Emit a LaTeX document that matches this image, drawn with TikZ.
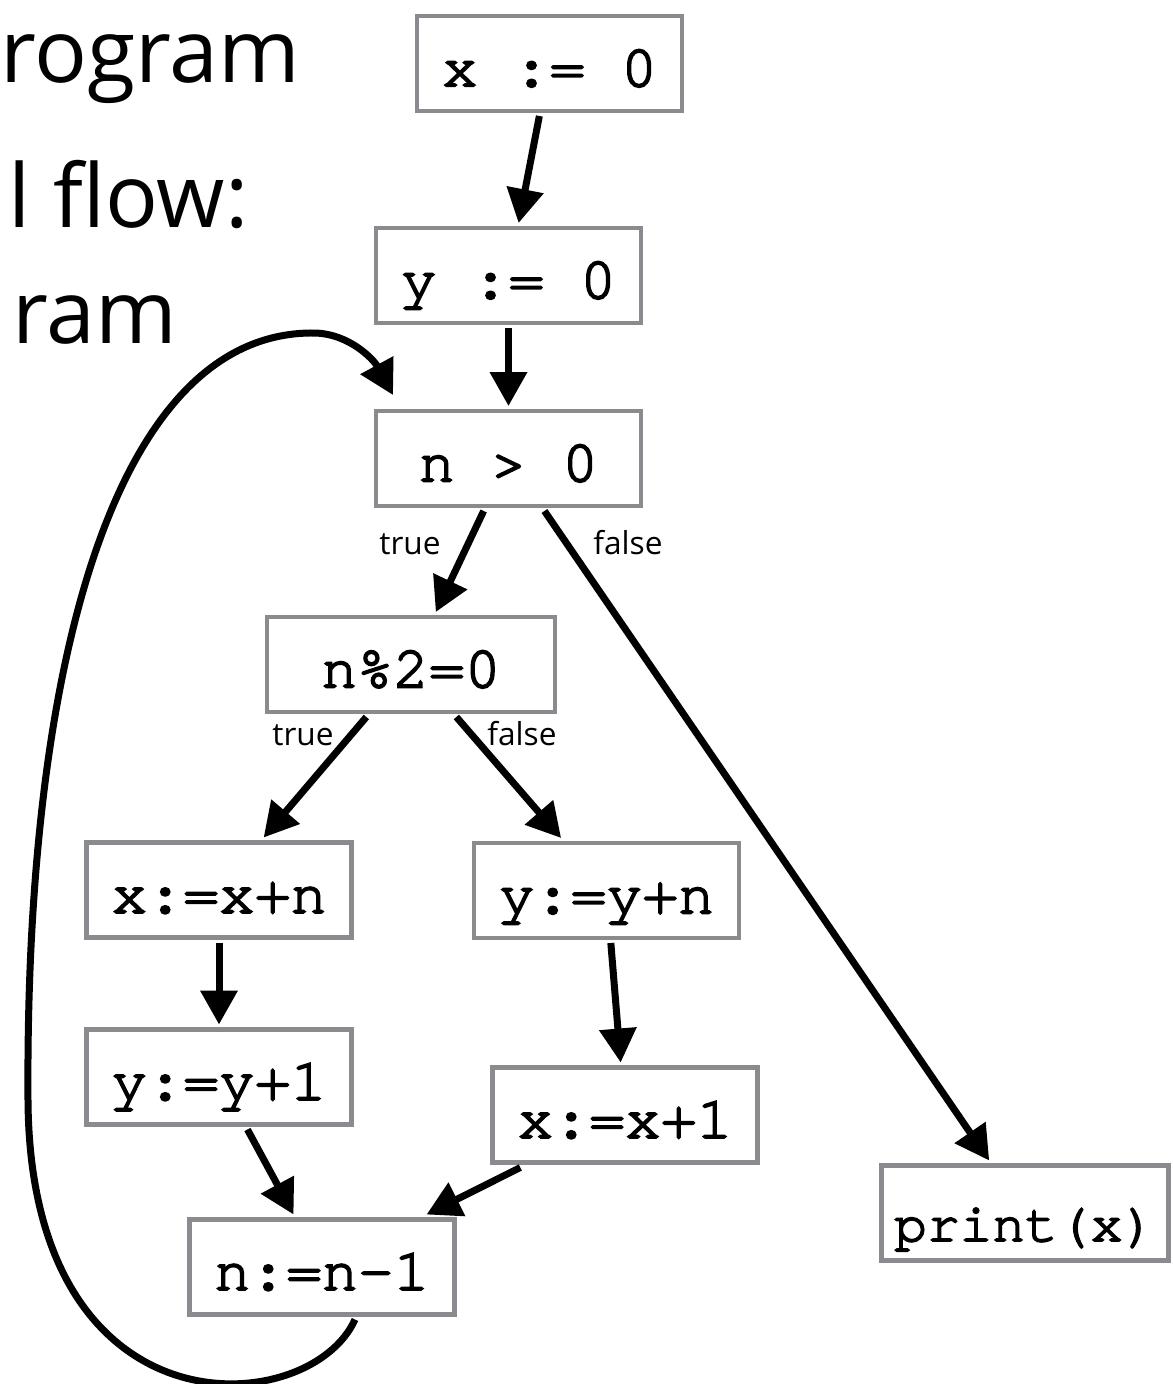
\documentclass[tikz,border=0pt]{standalone}
\usepackage{fontspec}
\setmainfont{Open Sans}
\setmonofont[FakeBold=3]{TeX Gyre Cursor}
\usetikzlibrary{arrows.meta, calc}
\definecolor{boxgray}{RGB}{137,139,142}

\begin{document}
\begin{tikzpicture}[
    x=0.02cm, y=-0.02cm,
    box/.style={draw=boxgray, line width=0.09cm, minimum width=5.3cm, minimum height=1.9cm,
                inner sep=0pt, outer sep=0.1cm, text height=28pt, text depth=2pt,
                font=\ttfamily\fontsize{34}{40}\selectfont, fill=white},
    arr/.style={-{Triangle[length=0.68cm, width=0.72cm]}, line width=0.14cm},
    lbl/.style={anchor=base, inner sep=0pt, font=\fontsize{18}{22}\selectfont},
    title/.style={anchor=base west, inner sep=0pt, font=\fontsize{50}{60}\selectfont},
  ]
  \useasboundingbox (0,0) rectangle (1173,1384);

  % cut-off slide title
  \node[title] (t1) at (0,82)   {rogram};
  \node[title] (t2) at (8,227)  {l flow:};
  \node[title] (t3) at (12,343) {ram};

  \node[box] (x0)   at (549.5,63.5)  {x := 0};
  \node[box] (y0)   at (508.5,275.5) {y := 0};
  \node[box] (cond) at (508.5,458.5) {n > 0};
  \node[box, minimum width=5.76cm] (even) at (411,664.5) {n\%2=0};
  \node[box] (addx) at (219,890)     {x:=x+n};
  \node[box] (addy) at (606.5,890.5) {y:=y+n};
  \node[box] (incy) at (219,1077)    {y:=y+1};
  \node[box] (incx) at (625,1115)    {x:=x+1};
  \node[box] (dec)  at (322,1267)    {n:=n-1};
  \node[box, minimum width=5.74cm, text height=34pt,
        font=\ttfamily\fontsize{31}{36}\selectfont] (out) at (1025,1213) {print(x)};

  \node[lbl] (tr1) at (410,554) {true};
  \node[lbl] (fa1) at (628,554) {false};
  \node[lbl] (tr2) at (303,745) {true};
  \node[lbl] (fa2) at (522,745) {false};

  \draw[arr] (x0)   -- (y0);
  \draw[arr] (y0)   -- (cond);
  \draw[arr] (cond) -- (even);
  \draw[arr] (cond) -- (out);
  \draw[arr] (even) -- (addx);
  \draw[arr] (even) -- (addy);
  \draw[arr] (addx) -- (incy);
  \draw[arr] (addy) -- (incx);
  \draw[arr] (incy) -- (dec);
  \draw[arr] (incx) -- (dec);

  % back edge of the loop
  \draw[arr] ($(dec.south)+(33,0)$) .. controls (310,1420) and (30,1440) .. (28,1100)
    .. controls (25,650) and (120,330) .. (315,333)
    .. controls (350,334) and (374,360) .. ($(cond.north west)+(22,-11)$);
\end{tikzpicture}
\end{document}
